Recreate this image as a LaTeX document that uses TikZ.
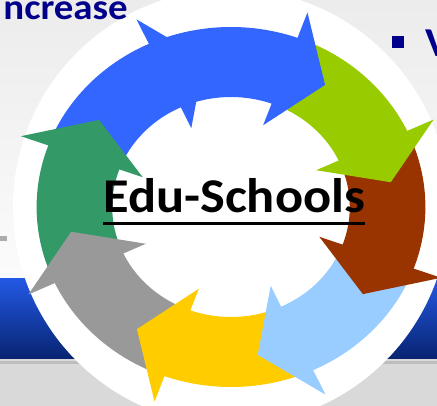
\documentclass[tikz,border=0pt]{standalone}
\usepackage{fontspec}
\setmainfont{Carlito}
\usetikzlibrary{positioning}

\definecolor{eduBlue}{HTML}{3366FF}
\definecolor{eduLime}{HTML}{99CC00}
\definecolor{eduBrown}{HTML}{993300}
\definecolor{eduSky}{HTML}{99CCFF}
\definecolor{eduYellow}{HTML}{FFCC00}
\definecolor{eduGray}{HTML}{999999}
\definecolor{eduGreen}{HTML}{339966}
\definecolor{eduNavy}{HTML}{00008B}
\definecolor{barTop}{RGB}{34,88,228}
\definecolor{barMid}{RGB}{22,64,178}
\definecolor{barBot}{RGB}{8,36,112}
\definecolor{floorGray}{HTML}{D9D9D9}
\definecolor{ruleGray}{HTML}{BDBDBD}

\begin{document}
\begin{tikzpicture}[x=1pt, y=1pt,
    slidetext/.style={text=eduNavy, inner sep=0pt, xscale=1.08}]
  \useasboundingbox (-231,-199) rectangle (206,207);
  \clip (-231,-199) rectangle (206,207);

  % Slide background
  \shade[top color=gray!15, bottom color=gray!3] (-231,-72) rectangle (206,207);
  \shade[top color=barTop, middle color=barMid, bottom color=barBot] (-231,-152) rectangle (206,-72);
  \fill[floorGray] (-231,-199) rectangle (206,-152);
  \draw[ruleGray, line width=3pt] (-231,-156) -- (206,-156);
  \fill[gray!65] (-231,-34) rectangle (-224,-29);

  % White disc
  \fill[white] (0,0) circle[radius=218];

  % Arrow ring
  \begin{scope}[xscale=1.08]
    \foreach \col [count=\i from 0] in {eduBlue, eduBlue, eduLime, eduBrown, eduSky, eduYellow, eduGray, eduGreen} {
      \pgfmathsetmacro\base{115-45*\i}
      \fill[\col] ({\base+42}:180) arc[start angle=\base+42, end angle=\base-1, radius=180]
        -- ({\base-1}:110) arc[start angle=\base-1, end angle=\base+42, radius=110] -- cycle;
    }
    \foreach \col [count=\i from 0] in {eduBlue, eduBlue, eduLime, eduBrown, eduSky, eduYellow, eduGray, eduGreen} {
      \pgfmathsetmacro\base{115-45*\i}
      \fill[\col] (\base:207) -- ({\base-15.5}:150) -- (\base:87) -- cycle;
    }
  \end{scope}

  % Texts
  \node[slidetext, font=\fontsize{36}{40}\selectfont\bfseries, anchor=base east] (increase) at (-103,187) {ncrease};
  \node[fill=eduNavy, minimum size=12pt, inner sep=0pt, anchor=north west] (bullet) at (161,171) {};
  \node[slidetext, font=\fontsize{41}{44}\selectfont\bfseries, anchor=base west] (vword) at (194,150) {V};

  \node[inner sep=0pt, xscale=1.08, font=\fontsize{48.5}{52}\selectfont\bfseries, anchor=base west] (title) at (-128,-6) {Edu-Schools};
  \draw[line width=3.5pt] ([yshift=-10.5pt]title.base west) -- ([yshift=-10.5pt]title.base east);
\end{tikzpicture}
\end{document}
